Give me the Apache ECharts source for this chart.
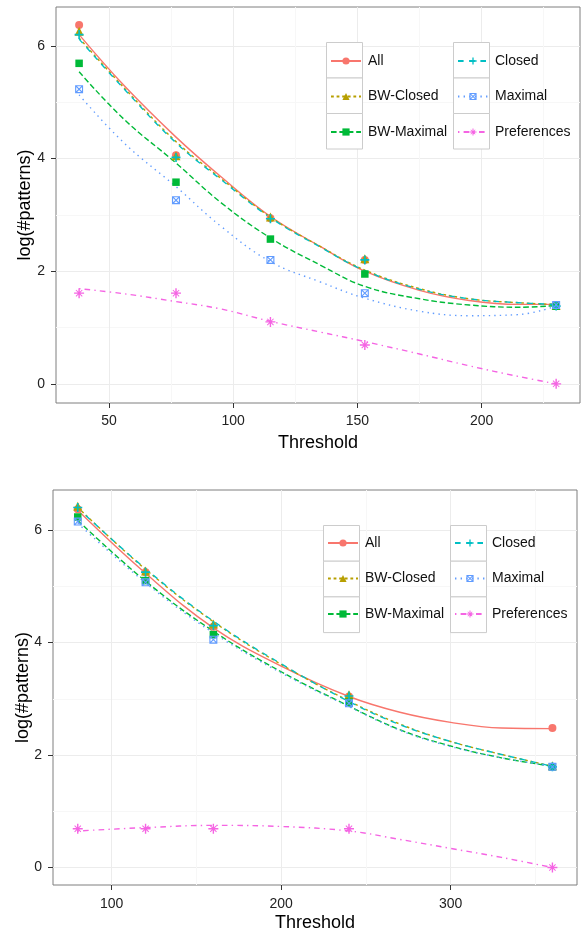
<!DOCTYPE html>
<html lang="en">
<head>
<meta charset="UTF-8">
<title>log(#patterns) vs Threshold</title>
<script src="https://cdn.jsdelivr.net/npm/echarts@6/dist/echarts.min.js"></script>
<style>
    html, body { margin: 0; padding: 0; background: #fff; }
    #chart { width: 587px; height: 933px; }
</style>
</head>
<body>
<div id="chart"></div>
<script>
    // series names, in legend order
    var names = ['All', 'BW-Closed', 'BW-Maximal', 'Closed', 'Maximal', 'Preferences'];

    // upper panel - observed points
    var topX = [38, 77, 115, 153, 230];
    var topAll = [6.37, 4.06, 2.94, 2.20, 1.39];
    var topBWClosed = [6.26, 4.05, 2.96, 2.22, 1.39];
    var topBWMaximal = [5.69, 3.58, 2.57, 1.95, 1.38];
    var topClosed = [6.20, 4.02, 2.93, 2.20, 1.38];
    var topMaximal = [5.23, 3.26, 2.20, 1.61, 1.40];
    var topPrefs = [1.61, 1.61, 1.10, 0.69, 0.00];

    // upper panel - smoothed curves
    var topFitX = [38, 56, 77, 95, 115, 135, 153, 175, 195, 215, 230];
    var topAllFit = [6.20, 5.30, 4.38, 3.68, 2.97, 2.44, 2.00, 1.66, 1.48, 1.41, 1.41];
    var topBWClosedFit = [6.14, 5.26, 4.30, 3.65, 2.96, 2.44, 2.02, 1.69, 1.51, 1.44, 1.41];
    var topBWMaximalFit = [5.54, 4.70, 3.92, 3.22, 2.59, 2.11, 1.73, 1.51, 1.40, 1.36, 1.39];
    var topClosedFit = [6.12, 5.24, 4.28, 3.63, 2.95, 2.43, 2.01, 1.68, 1.51, 1.44, 1.41];
    var topMaximalFit = [5.13, 4.28, 3.50, 2.80, 2.17, 1.81, 1.52, 1.29, 1.21, 1.23, 1.38];
    var topPrefsFit = [1.69, 1.60, 1.46, 1.33, 1.11, 0.92, 0.75, 0.53, 0.32, 0.13, 0.00];

    // lower panel - observed points
    var botX = [80, 120, 160, 240, 360];
    var botAll = [6.37, 5.25, 4.28, 3.04, 2.48];
    var botBWClosed = [6.42, 5.27, 4.33, 3.07, 1.81];
    var botBWMaximal = [6.23, 5.10, 4.14, 2.94, 1.79];
    var botClosed = [6.40, 5.25, 4.30, 3.05, 1.79];
    var botMaximal = [6.15, 5.07, 4.05, 2.92, 1.79];
    var botPrefs = [0.69, 0.69, 0.69, 0.69, 0.00];

    // lower panel - smoothed curves
    var botFitX = [80, 120, 160, 200, 240, 270, 300, 330, 360];
    var botAllFit = [6.35, 5.23, 4.26, 3.58, 3.04, 2.76, 2.58, 2.48, 2.47];
    var botBWClosedFit = [6.40, 5.30, 4.37, 3.61, 2.96, 2.55, 2.24, 2.01, 1.80];
    var botBWMaximalFit = [6.17, 5.09, 4.20, 3.48, 2.87, 2.45, 2.16, 1.95, 1.80];
    var botClosedFit = [6.39, 5.31, 4.38, 3.62, 2.95, 2.54, 2.24, 2.01, 1.80];
    var botMaximalFit = [6.12, 5.06, 4.17, 3.46, 2.86, 2.44, 2.15, 1.95, 1.80];
    var botPrefsFit = [0.65, 0.71, 0.75, 0.73, 0.65, 0.50, 0.34, 0.18, 0.00];

    // tick labels
    var yTicks = [0, 2, 4, 6];
    var yMinor = [1, 3, 5];
    var topXTicks = [50, 100, 150, 200];
    var topXMinor = [75, 125, 175, 225];
    var botXTicks = [100, 200, 300];
    var botXMinor = [150, 250, 350];

    var FONT = '"Liberation Sans", Arial, Helvetica, sans-serif';

    // marker shapes (ggplot pch 3, 7, 8)
    var PLUS = 'path://M4.1,0H5.9V4.1H10V5.9H5.9V10H4.1V5.9H0V4.1H4.1Z';
    var BOXX = 'path://M0,0H10V10H0Z M1.4,1.4V8.6H8.6V1.4Z M1.4,0.4L9.6,8.6L8.6,9.6L0.4,1.4Z M8.6,0.4L9.6,1.4L1.4,9.6L0.4,8.6Z';
    var STAR = 'path://M4.3,0H5.7V4.3H10V5.7H5.7V10H4.3V5.7H0V4.3H4.3Z M2.2,1.5L8.5,7.8L7.8,8.5L1.5,2.2Z M7.8,1.5L8.5,2.2L2.2,8.5L1.5,7.8Z';

    var look = {
        'All': {color: '#F8766D', dash: 'solid', symbol: 'circle', size: 8},
        'BW-Closed': {color: '#B79F00', dash: [2.8, 2.8], symbol: 'triangle', size: 9},
        'BW-Maximal': {color: '#00BA38', dash: [5.6, 2.8], symbol: 'rect', size: 7.5},
        'Closed': {color: '#00BFC4', dash: [5.6, 5.6], symbol: PLUS, size: 9},
        'Maximal': {color: '#619CFF', dash: [1.4, 4.2], symbol: BOXX, size: 8},
        'Preferences': {color: '#F564E3', dash: [1.4, 4.2, 5.6, 4.2], symbol: STAR, size: 10}
    };

    var topPts = [topAll, topBWClosed, topBWMaximal, topClosed, topMaximal, topPrefs];
    var topFit = [topAllFit, topBWClosedFit, topBWMaximalFit, topClosedFit, topMaximalFit, topPrefsFit];
    var botPts = [botAll, botBWClosed, botBWMaximal, botClosed, botMaximal, botPrefs];
    var botFit = [botAllFit, botBWClosedFit, botBWMaximalFit, botClosedFit, botMaximalFit, botPrefsFit];

    function pairs(xs, ys) {
        return xs.map(function (x, i) { return [x, ys[i]]; });
    }

    var series = [];
    function addPanel(axis, xs, pts, fitX, fit) {
        names.forEach(function (n, i) {
            var s = look[n];
            series.push({
                name: n, type: 'line', xAxisIndex: axis, yAxisIndex: axis,
                data: pairs(fitX, fit[i]), smooth: 0.4,
                symbol: s.symbol, showSymbol: false, silent: true,
                itemStyle: {color: s.color},
                lineStyle: {color: s.color, width: 1.4, type: s.dash},
                z: 2
            });
        });
        names.forEach(function (n, i) {
            var s = look[n];
            series.push({
                name: n, type: 'scatter', xAxisIndex: axis, yAxisIndex: axis,
                data: pairs(xs, pts[i]), symbol: s.symbol, symbolSize: s.size,
                itemStyle: {color: s.color, opacity: 1}, silent: true,
                z: 3
            });
        });
    }
    // axis indexes: 0 = upper main, 2 = lower main (1 and 3 carry minor grid lines)
    addPanel(0, topX, topPts, topFitX, topFit);
    addPanel(2, botX, botPts, botFitX, botFit);

    function xMain(grid, min, max, ticks, margin, gap) {
        return {
            type: 'value', gridIndex: grid, min: min, max: max,
            axisLine: {show: false, onZero: false},
            axisTick: {show: true, length: 5, customValues: ticks, lineStyle: {color: '#333'}},
            axisLabel: {customValues: ticks, margin: margin, fontSize: 14, color: '#222', fontFamily: FONT},
            splitLine: {show: true, lineStyle: {color: '#ececec', width: 1}},
            name: 'Threshold', nameLocation: 'middle', nameGap: gap, nameMoveOverlap: false,
            nameTextStyle: {fontSize: 18, color: '#000', fontFamily: FONT}
        };
    }
    function yMain(grid, min, max, gap) {
        return {
            type: 'value', gridIndex: grid, min: min, max: max,
            axisLine: {show: false, onZero: false},
            axisTick: {show: true, length: 5, customValues: yTicks, lineStyle: {color: '#333'}},
            axisLabel: {customValues: yTicks, margin: 11, fontSize: 14, color: '#222', fontFamily: FONT},
            splitLine: {show: true, lineStyle: {color: '#ececec', width: 1}},
            name: 'log(#patterns)', nameLocation: 'middle', nameGap: gap, nameMoveOverlap: false,
            nameTextStyle: {fontSize: 18, color: '#000', fontFamily: FONT}
        };
    }
    function minorAxis(grid, min, max, vals) {
        return {
            type: 'value', gridIndex: grid, min: min, max: max,
            axisLine: {show: false, onZero: false},
            axisTick: {show: false, customValues: vals},
            axisLabel: {show: false, customValues: vals},
            splitLine: {show: true, lineStyle: {color: '#f7f7f7', width: 1}}
        };
    }

    function legendCol(data, left, top) {
        return {
            data: data, orient: 'vertical', left: left, top: top, padding: 0,
            itemWidth: 30, itemHeight: 9, itemGap: 21.5, selectedMode: false,
            textStyle: {fontSize: 14, color: '#111', fontFamily: FONT, padding: [0, 0, 0, 2]}
        };
    }

    // grey-bordered key cells, as in the ggplot legend
    var keys = [];
    function keyBoxes(xs, y0, w, h) {
        xs.forEach(function (x) {
            for (var r = 0; r < 3; r++) {
                keys.push({
                    type: 'rect', z: 1,
                    shape: {x: x, y: y0 + r * h, width: w, height: h},
                    style: {fill: '#fff', stroke: '#cccccc', lineWidth: 1}
                });
            }
        });
    }
    keyBoxes([326.5, 453.5], 42.5, 36, 35.5);
    keyBoxes([323.5, 450.5], 525.5, 36, 35.7);

    var chart = echarts.init(document.getElementById('chart'), null, {renderer: 'canvas'});
    chart.setOption({
        backgroundColor: '#fff',
        animation: false,
        grid: [
            {left: 56, right: 7, top: 7, height: 396, show: true, borderColor: '#7f7f7f', borderWidth: 1, backgroundColor: '#fff'},
            {left: 53, right: 10, top: 490, height: 396, show: true, borderColor: '#7f7f7f', borderWidth: 1, backgroundColor: '#fff'}
        ],
        xAxis: [
            xMain(0, 28.7, 239.6, topXTicks, 11, 31),
            minorAxis(0, 28.7, 239.6, topXMinor),
            xMain(1, 65.4, 374.5, botXTicks, 12, 29),
            minorAxis(1, 65.4, 374.5, botXMinor)
        ],
        yAxis: [
            yMain(0, -0.34, 6.69, 22),
            minorAxis(0, -0.34, 6.69, yMinor),
            yMain(1, -0.31, 6.71, 21),
            minorAxis(1, -0.31, 6.71, yMinor)
        ],
        legend: [
            legendCol(['All', 'BW-Closed', 'BW-Maximal'], 330, 54),
            legendCol(['Closed', 'Maximal', 'Preferences'], 457, 54),
            legendCol(['All', 'BW-Closed', 'BW-Maximal'], 327, 536),
            legendCol(['Closed', 'Maximal', 'Preferences'], 454, 536)
        ],
        graphic: keys,
        series: series
    });
</script>
</body>
</html>
